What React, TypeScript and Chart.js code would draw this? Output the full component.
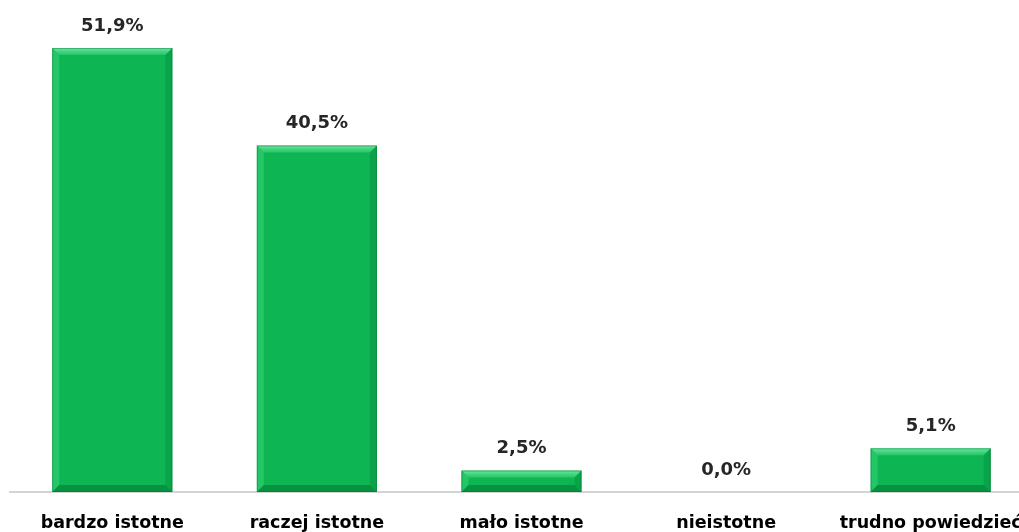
import React, { useEffect, useRef } from "react";
import { Chart, registerables } from "chart.js";

Chart.register(...registerables);

const categories = ["bardzo istotne", "raczej istotne", "mało istotne", "nieistotne", "trudno powiedzieć"];
const shares = [51.9, 40.5, 2.5, 0.0, 5.1];
const valueLabels = ["51,9%", "40,5%", "2,5%", "0,0%", "5,1%"];

const BAR_GREEN = "#0db652";

// Bevelled edges on each bar: light top, soft sides, darker bottom
const bevelPlugin = {
  id: "bevel",
  afterDatasetsDraw(chart: any) {
    const ctx = chart.ctx;
    const meta = chart.getDatasetMeta(0);
    meta.data.forEach((bar: any) => {
      const { x, y, base, width } = bar.getProps(["x", "y", "base", "width"], true);
      const h = base - y;
      if (h < 1) return;
      const l = x - width / 2;
      const r = x + width / 2;
      const t = y;
      const b = base;
      const d = Math.min(7, h / 2.5);
      const poly = (pts: number[][], fill: any) => {
        ctx.beginPath();
        ctx.moveTo(pts[0][0], pts[0][1]);
        for (let i = 1; i < pts.length; i++) ctx.lineTo(pts[i][0], pts[i][1]);
        ctx.closePath();
        ctx.fillStyle = fill;
        ctx.fill();
      };
      ctx.save();
      const topGrad = ctx.createLinearGradient(0, t, 0, t + d);
      topGrad.addColorStop(0, "rgba(130,240,175,0.85)");
      topGrad.addColorStop(1, "rgba(60,215,125,0.5)");
      poly([[l, t], [r, t], [r - d, t + d], [l + d, t + d]], topGrad);
      poly([[l, t], [l + d, t + d], [l + d, b - d], [l, b]], "rgba(60,215,125,0.5)");
      poly([[r, t], [r, b], [r - d, b - d], [r - d, t + d]], "rgba(0,120,50,0.28)");
      poly([[l, b], [l + d, b - d], [r - d, b - d], [r, b]], "rgba(0,110,45,0.5)");
      ctx.strokeStyle = "rgba(0,100,40,0.4)";
      ctx.lineWidth = 1;
      ctx.strokeRect(l + 0.5, t + 0.5, width - 1, h - 1);
      ctx.restore();
    });
  },
};

// Percentage labels above each bar
const valueLabelPlugin = {
  id: "valueLabels",
  afterDatasetsDraw(chart: any) {
    const ctx = chart.ctx;
    const meta = chart.getDatasetMeta(0);
    ctx.save();
    ctx.font = "bold 18px 'DejaVu Sans', Verdana, sans-serif";
    ctx.fillStyle = "#262626";
    ctx.textAlign = "center";
    ctx.textBaseline = "middle";
    meta.data.forEach((bar: any, i: number) => {
      ctx.fillText(valueLabels[i], bar.x, bar.y - 22);
    });
    ctx.restore();
  },
};

export default function App() {
  const canvasRef = useRef<HTMLCanvasElement | null>(null);

  useEffect(() => {
    if (!canvasRef.current) return;
    const chart = new Chart(canvasRef.current, {
      type: "bar",
      data: {
        labels: categories,
        datasets: [
          {
            data: shares,
            backgroundColor: BAR_GREEN,
            borderWidth: 0,
            categoryPercentage: 1,
            barPercentage: 0.587,
          },
        ],
      },
      options: {
        responsive: false,
        animation: false,
        devicePixelRatio: 1,
        layout: { padding: { top: 21.5, left: 10, right: 0, bottom: 0 } },
        plugins: {
          legend: { display: false },
          tooltip: { enabled: false },
        },
        scales: {
          x: {
            grid: { display: false, drawTicks: false },
            border: { display: true, color: "#d4d4d4", width: 2 },
            ticks: {
              color: "#000000",
              padding: 21,
              maxRotation: 0,
              autoSkip: false,
              font: { family: "'DejaVu Sans', Verdana, sans-serif", size: 17.5, weight: "bold" },
            },
            afterFit(scale: any) {
              scale.height = 68;
              scale.paddingLeft = 0;
              scale.paddingRight = 0;
            },
          },
          y: {
            display: false,
            min: 0,
            max: 55,
          },
        },
      },
      plugins: [bevelPlugin, valueLabelPlugin],
    });
    return () => chart.destroy();
  }, []);

  return (
    <div
      style={{
        position: "fixed",
        left: 0,
        top: 0,
        width: 1019,
        height: 532,
        overflow: "hidden",
        background: "#ffffff",
      }}
    >
      <canvas ref={canvasRef} width={1033} height={560} style={{ width: 1033, height: 560, display: "block" }} />
    </div>
  );
}
